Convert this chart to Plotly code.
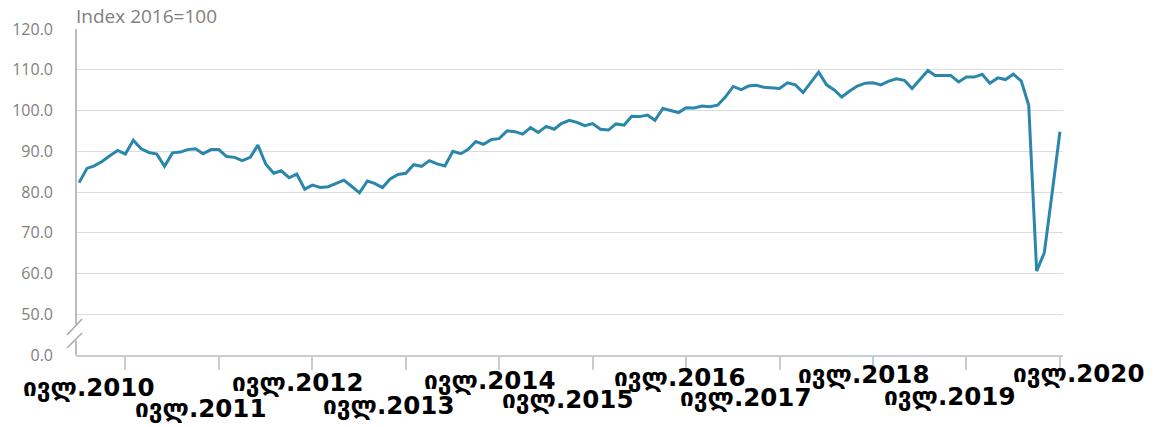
import pandas as pd
import plotly.graph_objects as go

# ---- data ----
start_month = "2010-01-01"
index_values = [
    82.3, 85.8, 86.4, 87.5, 88.9, 90.2, 89.3, 92.7, 90.6, 89.7, 89.3, 86.3,
    89.6, 89.8, 90.4, 90.6, 89.4, 90.4, 90.4, 88.7, 88.5, 87.7, 88.5, 91.5,
    86.8, 84.6, 85.2, 83.5, 84.4, 80.7, 81.7, 81.1, 81.3, 82.0, 82.9, 81.4,
    79.8, 82.7, 82.1, 81.1, 83.2, 84.3, 84.6, 86.7, 86.3, 87.7, 86.9, 86.4,
    90.0, 89.4, 90.4, 92.4, 91.7, 92.9, 93.1, 95.0, 94.8, 94.2, 95.8, 94.6,
    96.1, 95.4, 96.8, 97.6, 97.1, 96.3, 96.8, 95.4, 95.2, 96.7, 96.4, 98.6,
    98.5, 98.9, 97.6, 100.5, 100.1, 99.5, 100.7, 100.6, 101.1, 100.9, 101.3, 103.3,
    105.9, 105.1, 106.0, 106.2, 105.7, 105.6, 105.4, 106.8, 106.3, 104.4, 107.0, 109.4,
    106.3, 105.0, 103.3, 104.8, 106.0, 106.7, 106.8, 106.3, 107.2, 107.8, 107.4, 105.4,
    107.6, 109.8, 108.6, 108.6, 108.6, 107.0, 108.2, 108.2, 108.9, 106.7, 108.0, 107.6,
    108.9, 107.2, 101.3, 60.6, 65.1, 80.0, 94.8,
]
tick_years = [2010, 2011, 2012, 2013, 2014, 2015, 2016, 2017, 2018, 2019, 2020]
tick_labels = ["ივლ." + str(y) for y in tick_years]
y_tick_vals = [40, 50, 60, 70, 80, 90, 100, 110, 120]
y_tick_text = ["0.0", "50.0", "60.0", "70.0", "80.0", "90.0", "100.0", "110.0", "120.0"]
axis_title = "Index 2016=100"

months = pd.date_range(start_month, periods=len(index_values), freq="MS")
tick_dates = [pd.Timestamp(f"{y}-07-01") for y in tick_years]

# ---- layout helpers (pixel offsets of staggered labels) ----
label_dx = [-37, -18, -15, -17, -10, -25, -7, -34, -9, -17, 19]
label_cy = [387, 408, 382, 405, 380, 399, 377, 397, 374, 396, 373]

LINE = "#2a87ab"
AXIS = "#a6a6a6"
GRID = "#dcdcdc"
BOTTOM = 355

fig = go.Figure()
fig.add_trace(go.Scatter(
    x=months, y=index_values, mode="lines",
    line=dict(color=LINE, width=3), hoverinfo="x+y", showlegend=False,
))

annotations = []
for d, txt, dx, cy in zip(tick_dates, tick_labels, label_dx, label_cy):
    annotations.append(dict(
        x=d, xref="x", y=0, yref="paper", text=txt, showarrow=False,
        xanchor="center", yanchor="middle", xshift=dx, yshift=BOTTOM - cy,
        font=dict(family="DejaVu Sans", size=24.5, color="#000000", weight="bold"),
    ))
annotations.append(dict(
    x=0, xref="paper", y=1, yref="paper", text=axis_title, showarrow=False,
    xanchor="left", yanchor="middle", yshift=13, xshift=-2,
    font=dict(family="Open Sans", size=19, color="#7f7f7f"),
))

shapes = [
    # y axis line (broken)
    dict(type="line", xref="paper", yref="y", x0=0, x1=0, y0=47.5, y1=120,
         line=dict(color=AXIS, width=1.5)),
    dict(type="line", xref="paper", yref="y", x0=0, x1=0, y0=40, y1=43.5,
         line=dict(color=AXIS, width=1.5)),
]
for y0p, y1p in [(20, 36), (7, 22)]:
    shapes.append(dict(
        type="line", xref="paper", yref="y",
        xsizemode="pixel", xanchor=0, x0=-9, x1=6,
        ysizemode="pixel", yanchor=40, y0=y0p, y1=y1p,
        line=dict(color=AXIS, width=1.5),
    ))

fig.update_layout(
    width=1158, height=427,
    margin=dict(l=76, r=95, t=29, b=427 - BOTTOM),
    paper_bgcolor="white", plot_bgcolor="white",
    font=dict(family="Open Sans"),
    annotations=annotations, shapes=shapes,
    xaxis=dict(
        type="date",
        range=["2009-12-20", "2020-07-13"],
        showgrid=False, zeroline=False,
        showline=True, linecolor="#c9ccd4", linewidth=1.5,
        ticks="outside", ticklen=13, tickcolor="#c9ccd4", tickwidth=1.5,
        tickvals=tick_dates, showticklabels=False,
    ),
    yaxis=dict(
        range=[40, 120],
        tickvals=y_tick_vals, ticktext=y_tick_text,
        showgrid=True, gridcolor=GRID, gridwidth=1,
        zeroline=False, showline=False,
        ticks="", ticklabelstandoff=22,
        tickfont=dict(family="Open Sans", size=16, color="#7f7f7f"),
    ),
)

fig.write_html(
    "out.html",
    config={"displayModeBar": False},
    post_script="document.body.style.margin='0';document.body.style.padding='0';",
)
